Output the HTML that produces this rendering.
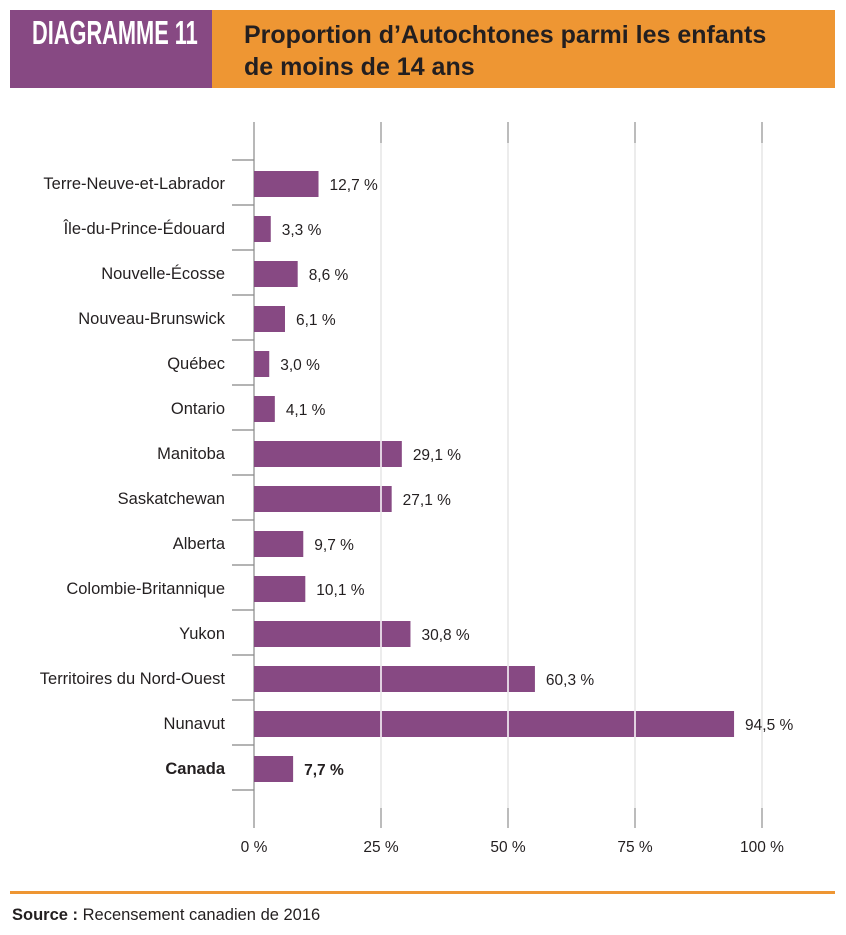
<!DOCTYPE html>
<html><head><meta charset="utf-8"><style>
body{margin:0;width:846px;height:935px;background:#fff;font-family:"Liberation Sans",sans-serif;position:relative;overflow:hidden}
#hdr-l{position:absolute;left:10px;top:10px;width:202px;height:78px;background:#874983}
#hdr-l span{position:absolute;left:22px;top:4px;color:#fff;font-weight:bold;font-size:33px;white-space:nowrap;display:inline-block;transform:scaleX(0.66);transform-origin:left top}
#hdr-r{position:absolute;left:212px;top:10px;width:623px;height:78px;background:#ee9633}
#hdr-r div{position:absolute;left:32px;top:9px;font-weight:bold;font-size:25px;line-height:32px;color:#231f20;white-space:nowrap}
#rule{position:absolute;left:10px;top:891px;width:825px;height:3px;background:#ee9633}
#src{position:absolute;left:12px;top:906px;font-size:16.5px;color:#231f20}
svg{position:absolute;left:0;top:0}
</style></head><body>
<div id="hdr-l"><span>DIAGRAMME 11</span></div>
<div id="hdr-r"><div>Proportion d’Autochtones parmi les enfants<br>de moins de 14 ans</div></div>
<svg id="chart" width="846" height="935"></svg>
<div id="rule"></div>
<div id="src"><b>Source :</b> Recensement canadien de 2016</div>
<script>
const categories=["Terre-Neuve-et-Labrador","Île-du-Prince-Édouard","Nouvelle-Écosse","Nouveau-Brunswick","Québec","Ontario","Manitoba","Saskatchewan","Alberta","Colombie-Britannique","Yukon","Territoires du Nord-Ouest","Nunavut","Canada"];
const values=[12.7,3.3,8.6,6.1,3.0,4.1,29.1,27.1,9.7,10.1,30.8,55.3,94.5,7.7];
const valueLabels=["12,7 %","3,3 %","8,6 %","6,1 %","3,0 %","4,1 %","29,1 %","27,1 %","9,7 %","10,1 %","30,8 %","60,3 %","94,5 %","7,7 %"];
const ticks=[0,25,50,75,100];
const tickLabels=["0 %","25 %","50 %","75 %","100 %"];
const NS="http://www.w3.org/2000/svg";
const svg=document.getElementById('chart');
const x0=254,pxPer=5.08,rowTop=160,rowH=45,barH=26,plotTop=122,plotBot=828;
const X=v=>x0+v*pxPer;
const Yc=i=>rowTop+rowH*i+rowH/2+1.5;
function mk(t,a){const e=document.createElementNS(NS,t);for(const k in a)e.setAttribute(k,a[k]);svg.appendChild(e);return e;}
ticks.forEach((t,i)=>{
  if(t===0)return;
  const g=mk('line',{x1:X(t),x2:X(t),y1:plotTop,y2:plotBot,stroke:'#e6e6e6','stroke-width':1.5});
  
  
  mk('line',{x1:X(t),x2:X(t),y1:plotTop,y2:plotTop+21,stroke:'#aaa','stroke-width':1.5});
  mk('line',{x1:X(t),x2:X(t),y1:plotBot-20,y2:plotBot,stroke:'#aaa','stroke-width':1.5});
});
ticks.forEach((t,i)=>{
  const l=mk('text',{x:X(t),y:852,'text-anchor':'middle','font-size':15.5,fill:'#231f20'});
  l.textContent=tickLabels[i];
  
  
});
const ax=mk('line',{x1:x0,x2:x0,y1:plotTop,y2:plotBot,stroke:'#888','stroke-width':1.2});


for(let i=0;i<=categories.length;i++){
  mk('line',{x1:232,x2:x0,y1:rowTop+rowH*i,y2:rowTop+rowH*i,stroke:'#888','stroke-width':1.2});
}
categories.forEach((c,i)=>{
  const y=Yc(i);const bold=c==='Canada';
  const b=mk('rect',{x:x0,y:y-barH/2,width:values[i]*pxPer,height:barH,fill:'#874983'});
  
  
  ticks.forEach(t=>{if(t>0&&X(t)<X(values[i]))mk('line',{x1:X(t),x2:X(t),y1:y-barH/2,y2:y+barH/2,stroke:'#fff','stroke-width':1.5});});
  const cl=mk('text',{x:225,y:y+5,'text-anchor':'end','font-size':16.5,fill:'#231f20','font-weight':bold?'bold':'normal'});
  cl.textContent=c;
  
  
  const vl=mk('text',{x:X(values[i])+11,y:y+6,'font-size':15.5,fill:'#231f20','font-weight':bold?'bold':'normal'});
  vl.textContent=valueLabels[i];
  
  
});
</script>
</body></html>
